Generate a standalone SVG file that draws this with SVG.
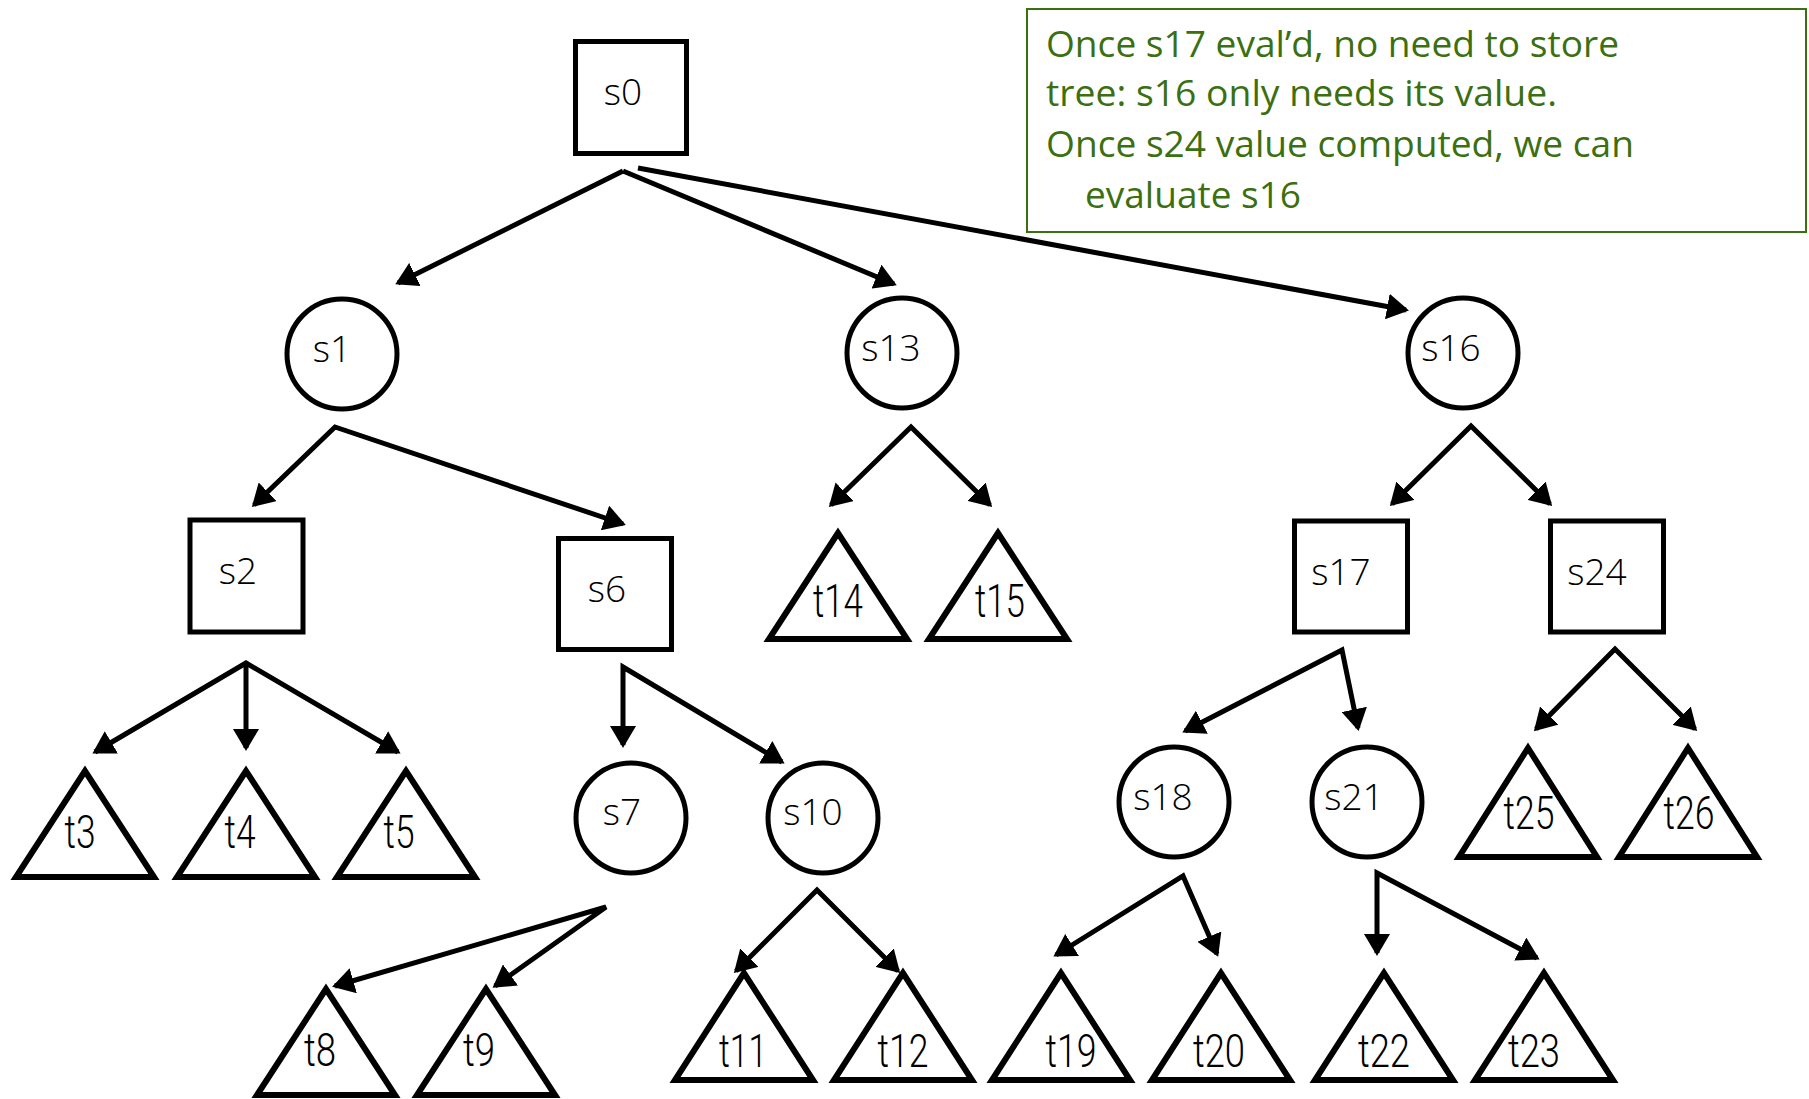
<svg xmlns="http://www.w3.org/2000/svg" width="1809" height="1099" viewBox="0 0 1809 1099">
<defs>
<marker id="ah" markerUnits="userSpaceOnUse" viewBox="0 0 22 26" markerWidth="22" markerHeight="26" refX="19" refY="13" orient="auto-start-reverse">
<path d="M0,0 L22,13 L0,26 z" fill="#000"/>
</marker>
<style>
.sq{fill:#fff;stroke:#000;stroke-width:5}
.ci{fill:#fff;stroke:#000;stroke-width:5}
.tr{fill:#fff;stroke:#000;stroke-width:6;stroke-linejoin:miter}
.lb{font-family:"Open Sans","DejaVu Sans",sans-serif;font-size:37px;font-weight:300;fill:#000;text-anchor:middle}
.tl{font-family:Roboto,"Liberation Sans",sans-serif;font-size:46px;font-weight:300;fill:#000;text-anchor:middle}
.cn{fill:none;stroke:#000;stroke-width:5;stroke-linejoin:miter;marker-end:url(#ah)}
.cn2{fill:none;stroke:#000;stroke-width:5;stroke-linejoin:miter;marker-start:url(#ah);marker-end:url(#ah)}
.nt{font-family:"Open Sans","Noto Sans",sans-serif;font-size:36px;fill:#3b6f10}
</style>
</defs>
<rect width="1809" height="1099" fill="#fff"/>

<g id="connectors">
<path class="cn" d="M623,171 L398,283"/>
<path class="cn" d="M623,171 L894,284"/>
<path class="cn" d="M638,168 L1406,310"/>
<path class="cn2" d="M254,505 L335,427 L623,524"/>
<path class="cn2" d="M831,505 L911,427 L990,505"/>
<path class="cn2" d="M1392,504 L1471,426 L1550,504"/>
<path class="cn2" d="M95,752 L246,663 L398,752"/>
<path class="cn" d="M246,663 L246,748"/>
<path class="cn2" d="M623,745 L623,667 L782,762"/>
<path class="cn2" d="M335,986 L606,907 L495,986"/>
<path class="cn2" d="M736,971 L817,890 L898,971"/>
<path class="cn2" d="M1185,731 L1342,650 L1358,728"/>
<path class="cn2" d="M1536,729 L1615,649 L1695,729"/>
<path class="cn2" d="M1056,955 L1183,876 L1217,954"/>
<path class="cn2" d="M1377,953 L1377,873 L1537,958"/>
</g>

<g id="s0"><rect class="sq" x="575.5" y="41.5" width="111" height="112"/><text class="lb" x="623" y="105">s0</text></g>
<g id="s1"><circle class="ci" cx="342" cy="354" r="55"/><text class="lb" x="332" y="362">s1</text></g>
<g id="s13"><circle class="ci" cx="902" cy="353" r="55"/><text class="lb" x="891" y="361">s13</text></g>
<g id="s16"><circle class="ci" cx="1463" cy="353" r="55"/><text class="lb" x="1451" y="361">s16</text></g>
<g id="s2"><rect class="sq" x="190" y="520" width="113" height="112"/><text class="lb" x="238" y="584">s2</text></g>
<g id="s6"><rect class="sq" x="558.5" y="538.5" width="113" height="111"/><text class="lb" x="607" y="602">s6</text></g>
<g id="s17"><rect class="sq" x="1294.5" y="521" width="113" height="111"/><text class="lb" x="1341" y="585">s17</text></g>
<g id="s24"><rect class="sq" x="1550.5" y="521" width="113" height="111"/><text class="lb" x="1597" y="585">s24</text></g>
<g id="s7"><circle class="ci" cx="631" cy="818" r="55"/><text class="lb" x="622" y="825">s7</text></g>
<g id="s10"><circle class="ci" cx="823" cy="818" r="55"/><text class="lb" x="813" y="825">s10</text></g>
<g id="s18"><circle class="ci" cx="1174" cy="802" r="55"/><text class="lb" x="1163" y="810">s18</text></g>
<g id="s21"><circle class="ci" cx="1367" cy="802" r="55"/><text class="lb" x="1354" y="810">s21</text></g>

<g id="t3"><polygon class="tr" points="85,771 16,877 154,877"/><text class="tl" x="80" y="848" textLength="31" lengthAdjust="spacingAndGlyphs">t3</text></g>
<g id="t4"><polygon class="tr" points="246,771 177,877 315,877"/><text class="tl" x="240" y="848" textLength="31" lengthAdjust="spacingAndGlyphs">t4</text></g>
<g id="t5"><polygon class="tr" points="406,771 337,877 475,877"/><text class="tl" x="399" y="848" textLength="31" lengthAdjust="spacingAndGlyphs">t5</text></g>
<g id="t14"><polygon class="tr" points="838,533 769,639 907,639"/><text class="tl" x="838" y="617" textLength="50" lengthAdjust="spacingAndGlyphs">t14</text></g>
<g id="t15"><polygon class="tr" points="998,533 929,639 1067,639"/><text class="tl" x="1000" y="617" textLength="50" lengthAdjust="spacingAndGlyphs">t15</text></g>
<g id="t25"><polygon class="tr" points="1528,748 1459,857 1597,857"/><text class="tl" x="1529" y="829" textLength="51" lengthAdjust="spacingAndGlyphs">t25</text></g>
<g id="t26"><polygon class="tr" points="1688,748 1619,857 1757,857"/><text class="tl" x="1689" y="829" textLength="51" lengthAdjust="spacingAndGlyphs">t26</text></g>
<g id="t8"><polygon class="tr" points="326,989 257,1095 395,1095"/><text class="tl" x="320" y="1066" textLength="32" lengthAdjust="spacingAndGlyphs">t8</text></g>
<g id="t9"><polygon class="tr" points="486,989 417,1095 555,1095"/><text class="tl" x="479" y="1066" textLength="32" lengthAdjust="spacingAndGlyphs">t9</text></g>
<g id="t11"><polygon class="tr" points="744,973 675,1080 813,1080"/><text class="tl" x="743" y="1067" textLength="48" lengthAdjust="spacingAndGlyphs">t11</text></g>
<g id="t12"><polygon class="tr" points="903,973 834,1080 972,1080"/><text class="tl" x="903" y="1067" textLength="51" lengthAdjust="spacingAndGlyphs">t12</text></g>
<g id="t19"><polygon class="tr" points="1061,973 992,1080 1130,1080"/><text class="tl" x="1071" y="1067" textLength="51" lengthAdjust="spacingAndGlyphs">t19</text></g>
<g id="t20"><polygon class="tr" points="1221,973 1152,1080 1290,1080"/><text class="tl" x="1219" y="1067" textLength="52" lengthAdjust="spacingAndGlyphs">t20</text></g>
<g id="t22"><polygon class="tr" points="1384,973 1315,1080 1453,1080"/><text class="tl" x="1384" y="1067" textLength="52" lengthAdjust="spacingAndGlyphs">t22</text></g>
<g id="t23"><polygon class="tr" points="1544,973 1475,1080 1613,1080"/><text class="tl" x="1534" y="1067" textLength="52" lengthAdjust="spacingAndGlyphs">t23</text></g>

<g id="note">
<rect x="1027" y="9" width="779" height="223" fill="#fff" stroke="#3b6f10" stroke-width="2"/>
<text class="nt" x="1046" y="57" textLength="573" lengthAdjust="spacingAndGlyphs">Once s17 eval’d, no need to store</text>
<text class="nt" x="1046" y="106" textLength="511" lengthAdjust="spacingAndGlyphs">tree: s16 only needs its value.</text>
<text class="nt" x="1046" y="157" textLength="588" lengthAdjust="spacingAndGlyphs">Once s24 value computed, we can</text>
<text class="nt" x="1085" y="208" textLength="216" lengthAdjust="spacingAndGlyphs">evaluate s16</text>
</g>
</svg>
